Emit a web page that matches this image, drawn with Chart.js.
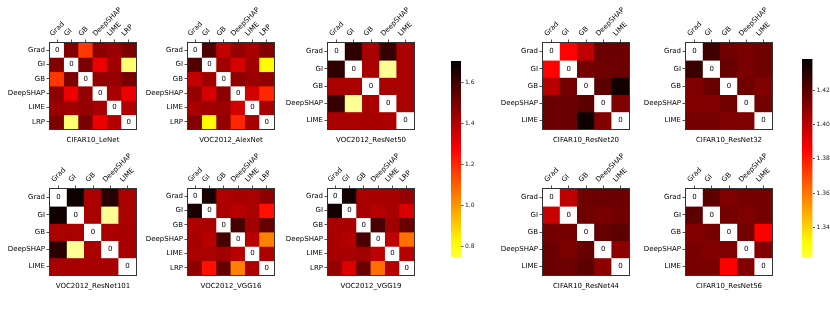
<!DOCTYPE html>
<html>
<head>
<meta charset="utf-8">
<title>Attribution distance heatmaps</title>
<script src="https://cdn.jsdelivr.net/npm/chart.js@4.4.1/dist/chart.umd.min.js"></script>
<style>
  html, body { margin: 0; padding: 0; background: #fff; }
  #figure { position: relative; width: 830px; height: 309px; overflow: hidden; }
  #figure canvas { position: absolute; }
</style>
</head>
<body>
<div id="figure"></div>
<script>
/**
 * DATA
 */
const methods6 = ['Grad', 'GI', 'GB', 'DeepSHAP', 'LIME', 'LRP']
const methods5 = ['Grad', 'GI', 'GB', 'DeepSHAP', 'LIME']

// colour scale ranges and colorbar ticks
const rangeVoc = [0.751, 1.703]
const rangeCifar = [1.323, 1.438]
const ticksVoc = [0.8, 1.0, 1.2, 1.4, 1.6]
const ticksCifar = [1.34, 1.36, 1.38, 1.40, 1.42]

// rows top to bottom, columns left to right
const cifar10LeNet = [
  [0, 1.48, 1.17, 1.465, 1.44, 1.49],
  [1.48, 0, 1.49, 1.30, 1.43, 0.68],
  [1.17, 1.49, 0, 1.455, 1.45, 1.50],
  [1.465, 1.30, 1.455, 0, 1.42, 1.30],
  [1.44, 1.43, 1.45, 1.42, 0, 1.40],
  [1.49, 0.68, 1.50, 1.30, 1.40, 0]
]
const voc2012AlexNet = [
  [0, 1.565, 1.37, 1.45, 1.42, 1.48],
  [1.565, 0, 1.43, 1.34, 1.43, 0.82],
  [1.37, 1.43, 0, 1.465, 1.44, 1.455],
  [1.45, 1.34, 1.465, 0, 1.345, 1.20],
  [1.42, 1.43, 1.44, 1.345, 0, 1.42],
  [1.48, 0.82, 1.455, 1.20, 1.42, 0]
]
const voc2012ResNet50 = [
  [0, 1.625, 1.415, 1.61, 1.415],
  [1.625, 0, 1.415, 0.64, 1.415],
  [1.415, 1.415, 0, 1.415, 1.415],
  [1.61, 0.64, 1.415, 0, 1.415],
  [1.415, 1.415, 1.42, 1.415, 0]
]
const voc2012ResNet101 = [
  [0, 1.68, 1.415, 1.635, 1.415],
  [1.68, 0, 1.415, 0.64, 1.415],
  [1.415, 1.415, 0, 1.415, 1.42],
  [1.635, 0.64, 1.415, 0, 1.42],
  [1.42, 1.42, 1.42, 1.42, 0]
]
const voc2012Vgg16 = [
  [0, 1.66, 1.405, 1.42, 1.415, 1.465],
  [1.66, 0, 1.415, 1.39, 1.415, 1.24],
  [1.405, 1.415, 0, 1.585, 1.43, 1.535],
  [1.42, 1.39, 1.585, 0, 1.39, 1.04],
  [1.415, 1.415, 1.43, 1.39, 0, 1.405],
  [1.465, 1.24, 1.535, 1.04, 1.405, 0]
]
const voc2012Vgg19 = [
  [0, 1.67, 1.415, 1.42, 1.42, 1.45],
  [1.67, 0, 1.42, 1.395, 1.42, 1.33],
  [1.415, 1.42, 0, 1.58, 1.43, 1.525],
  [1.42, 1.395, 1.58, 0, 1.38, 1.07],
  [1.42, 1.42, 1.43, 1.38, 0, 1.395],
  [1.45, 1.33, 1.525, 1.07, 1.395, 0]
]
const cifar10ResNet20 = [
  [0, 1.385, 1.399, 1.416, 1.416],
  [1.385, 0, 1.414, 1.415, 1.416],
  [1.400, 1.414, 0, 1.419, 1.434],
  [1.416, 1.416, 1.419, 0, 1.411],
  [1.416, 1.416, 1.435, 1.411, 0]
]
const cifar10ResNet32 = [
  [0, 1.425, 1.415, 1.413, 1.415],
  [1.426, 0, 1.417, 1.413, 1.415],
  [1.412, 1.416, 0, 1.415, 1.412],
  [1.411, 1.411, 1.415, 0, 1.414],
  [1.414, 1.414, 1.412, 1.412, 0]
]
const cifar10ResNet44 = [
  [0, 1.399, 1.415, 1.416, 1.416],
  [1.397, 0, 1.415, 1.413, 1.415],
  [1.414, 1.414, 0, 1.417, 1.419],
  [1.416, 1.413, 1.417, 0, 1.409],
  [1.416, 1.416, 1.419, 1.409, 0]
]
const cifar10ResNet56 = [
  [0, 1.419, 1.412, 1.414, 1.414],
  [1.419, 0, 1.414, 1.412, 1.414],
  [1.411, 1.413, 0, 1.414, 1.386],
  [1.413, 1.411, 1.412, 0, 1.411],
  [1.413, 1.413, 1.386, 1.411, 0]
]

/**
 * COLOUR MAP (matplotlib hot_r, lightest part trimmed)
 */
const hotR = (t) => {
  const s = 1 - t
  const clamp = (x) => Math.min(1, Math.max(0, x))
  const r = clamp(s / 0.365)
  const g = clamp((s - 0.365) / 0.381)
  const b = clamp((s - 0.746) / 0.254)
  return `rgb(${Math.round(r * 255)},${Math.round(g * 255)},${Math.round(b * 255)})`
}

// values under the range keep fading towards white
const colorFor = (v, range) => {
  const f = Math.min(1, (v - range[0]) / (range[1] - range[0]))
  return hotR(Math.max(0, 0.2 + 0.8 * f))
}

Chart.defaults.font.family = "'DejaVu Sans', sans-serif"
Chart.defaults.color = '#000'

const figure = document.getElementById('figure')

const makeCanvas = (left, top, width, height) => {
  const c = document.createElement('canvas')
  c.width = width
  c.height = height
  c.style.left = left + 'px'
  c.style.top = top + 'px'
  c.style.width = width + 'px'
  c.style.height = height + 'px'
  figure.appendChild(c)
  return c
}

// frame around the matrix and the "0" on the diagonal
const frameAndZeros = {
  id: 'frameAndZeros',
  afterDatasetsDraw(chart) {
    const { ctx, chartArea: a } = chart
    ctx.save()
    ctx.font = "7px 'DejaVu Sans'"
    ctx.fillStyle = '#000'
    ctx.textAlign = 'center'
    ctx.textBaseline = 'middle'
    chart.data.datasets.forEach((ds, r) => {
      const bar = chart.getDatasetMeta(r).data[r]
      ctx.fillText('0', bar.x, (bar.y + bar.base) / 2)
    })
    ctx.strokeStyle = '#333'
    ctx.lineWidth = 1
    ctx.strokeRect(Math.round(a.left) - 0.5, Math.round(a.top) - 0.5, Math.round(a.width) + 1, Math.round(a.height) + 1)
    ctx.restore()
  }
}

const tickGrid = {
  display: true,
  offset: false,
  drawOnChartArea: false,
  drawTicks: true,
  tickLength: 3.5,
  tickColor: '#222',
  tickWidth: 0.8
}

/**
 * HEATMAP PANEL
 */
const drawHeatmap = (p) => {
  const n = p.labels.length
  const canvas = makeCanvas(p.left - 50, p.top - 40, 176, 144)

  new Chart(canvas, {
    type: 'bar',
    data: {
      labels: p.labels,
      datasets: p.values.map((row, r) => ({
        data: row.map(() => [n - 1 - r, n - r]),
        backgroundColor: row.map(v => (v === 0 ? '#fff' : colorFor(v, p.range))),
        borderWidth: 0,
        grouped: false,
        barPercentage: 1,
        categoryPercentage: 1,
        inflateAmount: 0.4
      }))
    },
    options: {
      responsive: false,
      animation: false,
      events: [],
      layout: { padding: { left: 0, top: 0, right: 40, bottom: 2.3 } },
      plugins: {
        legend: { display: false },
        tooltip: { enabled: false },
        title: {
          display: true,
          text: p.title,
          position: 'bottom',
          fullSize: false,
          color: '#000',
          font: { size: 7, weight: 'normal' },
          padding: { top: 7.3, bottom: 0 }
        }
      },
      scales: {
        x: {
          type: 'category',
          position: 'top',
          offset: true,
          grid: tickGrid,
          border: { display: false },
          ticks: { font: { size: 7 }, color: '#000', padding: 1.5, minRotation: 45, maxRotation: 45, autoSkip: false },
          afterFit: (s) => { s.height = 40 }
        },
        y: {
          type: 'linear',
          min: 0,
          max: n,
          grid: tickGrid,
          border: { display: false },
          ticks: { font: { size: 7 }, color: '#000', padding: 1.5, callback: (v) => p.labels[n - 1 - Math.floor(v)] },
          afterBuildTicks: (s) => { s.ticks = p.labels.map((_, r) => ({ value: n - r - 0.5 })) },
          afterFit: (s) => { s.width = 50 }
        }
      }
    },
    plugins: [frameAndZeros]
  })
}

/**
 * COLORBAR
 */
const drawColorbar = (range, tickValues, digits, left, top, width, height, barWidth) => {
  const canvas = makeCanvas(left, top, width, height)

  new Chart(canvas, {
    type: 'bar',
    data: {
      labels: [''],
      datasets: [{
        data: [range],
        borderWidth: 0,
        barPercentage: 1,
        categoryPercentage: 1,
        backgroundColor: (ctx) => {
          const a = ctx.chart.chartArea
          if (!a) return colorFor(range[0], range)
          const g = ctx.chart.ctx.createLinearGradient(0, a.bottom, 0, a.top)
          for (let i = 0; i <= 40; i++) {
            g.addColorStop(i / 40, colorFor(range[0] + (range[1] - range[0]) * i / 40, range))
          }
          return g
        }
      }]
    },
    options: {
      responsive: false,
      animation: false,
      events: [],
      layout: { padding: { left: 0, top: 5, right: 0, bottom: 5 } },
      plugins: { legend: { display: false }, tooltip: { enabled: false } },
      scales: {
        x: { display: false },
        y: {
          position: 'right',
          min: range[0],
          max: range[1],
          grid: { drawOnChartArea: false, drawTicks: true, tickLength: 2.5, tickColor: '#333', tickWidth: 0.8 },
          border: { display: false },
          ticks: { font: { size: 6 }, color: '#222', padding: 1.5, callback: (v) => v.toFixed(digits) },
          afterBuildTicks: (s) => { s.ticks = tickValues.map(v => ({ value: v })) },
          afterFit: (s) => { s.width = width - barWidth }
        }
      }
    }
  })
}

const panels = [
  { title: 'CIFAR10_LeNet', labels: methods6, values: cifar10LeNet, range: rangeVoc, left: 50, top: 43 },
  { title: 'VOC2012_AlexNet', labels: methods6, values: voc2012AlexNet, range: rangeVoc, left: 188, top: 43 },
  { title: 'VOC2012_ResNet50', labels: methods5, values: voc2012ResNet50, range: rangeVoc, left: 328, top: 43 },
  { title: 'VOC2012_ResNet101', labels: methods5, values: voc2012ResNet101, range: rangeVoc, left: 50, top: 189 },
  { title: 'VOC2012_VGG16', labels: methods6, values: voc2012Vgg16, range: rangeVoc, left: 188, top: 189 },
  { title: 'VOC2012_VGG19', labels: methods6, values: voc2012Vgg19, range: rangeVoc, left: 328, top: 189 },
  { title: 'CIFAR10_ResNet20', labels: methods5, values: cifar10ResNet20, range: rangeCifar, left: 543, top: 43 },
  { title: 'CIFAR10_ResNet32', labels: methods5, values: cifar10ResNet32, range: rangeCifar, left: 686, top: 43 },
  { title: 'CIFAR10_ResNet44', labels: methods5, values: cifar10ResNet44, range: rangeCifar, left: 543, top: 189 },
  { title: 'CIFAR10_ResNet56', labels: methods5, values: cifar10ResNet56, range: rangeCifar, left: 686, top: 189 }
]

panels.forEach(drawHeatmap)

drawColorbar(rangeVoc, ticksVoc, 1, 451, 56, 42, 206, 10)
drawColorbar(rangeCifar, ticksCifar, 2, 802, 54, 28, 208, 10.5)
</script>
</body>
</html>
